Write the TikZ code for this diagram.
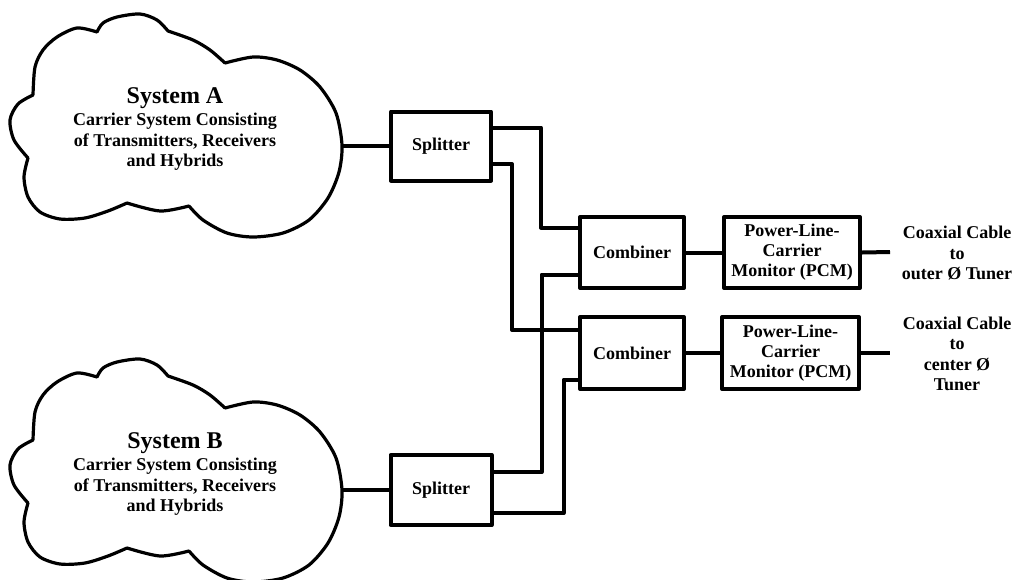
\documentclass[tikz,border=0pt]{standalone}
\usepackage{fontspec}
\setmainfont{Liberation Serif}
\begin{document}
\begin{tikzpicture}[x=1pt,y=-1pt,line join=round,
  box/.style={draw,line width=4pt,inner sep=0pt,align=center,font=\bfseries\fontsize{18}{20}\selectfont},
  wire/.style={line width=4pt},
  cloudline/.style={line width=3.2pt,line cap=round,line join=round},
  txt/.style={inner sep=0pt,align=center,font=\bfseries\fontsize{18}{20.5}\selectfont},
  title/.style={inner sep=0pt,font=\bfseries\fontsize{24}{26}\selectfont},
  pics/cloudshape/.style={code={
    \draw[cloudline]
      plot[smooth] coordinates {(33,95) (35,67) (43,50) (57,37) (77,28) (97,32)}
      plot[smooth] coordinates {(97,32) (103,23) (117,17) (140,14) (157,20) (168,31)}
      plot[smooth] coordinates {(168,31) (193,40) (210,50) (225,63)}
      plot[smooth] coordinates {(225,63) (253,57) (277,60) (300,70) (320,87) (336,113) (342,145) (339,172) (328,198) (309,220) (283,233) (253,237) (227,233) (203,220) (189,206)}
      plot[smooth] coordinates {(189,206) (160,211) (127,203)}
      plot[smooth] coordinates {(127,203) (108,211) (85,218) (60,219) (40,212) (28,197) (24,177) (28,158)}
      plot[smooth] coordinates {(28,158) (14,140) (10,120) (18,104) (33,95)};
  }}]
\useasboundingbox (0,0) rectangle (1019,579);

% clouds
\pic at (0,0) {cloudshape};
\pic at (0,345) {cloudshape};
\coordinate (cA) at (342,146);
\coordinate (cB) at (342,490);

\node[title] (tA) at (175,98) {System A};
\node[txt] (bA) at (175,142) {Carrier System Consisting\\of Transmitters, Receivers\\and Hybrids};
\node[title] (tB) at (175,443) {System B};
\node[txt] (bB) at (175,487) {Carrier System Consisting\\of Transmitters, Receivers\\and Hybrids};

% boxes
\node[box,minimum width=100pt,minimum height=69pt] (splA) at (441,146) {Splitter};
\node[box,minimum width=101pt,minimum height=70pt] (splB) at (441,490) {Splitter};
\node[box,minimum width=104pt,minimum height=71pt] (comb1) at (632,252.5) {Combiner};
\node[box,minimum width=104pt,minimum height=72pt] (comb2) at (632,353) {Combiner};
\node[box,minimum width=136pt,minimum height=71pt] (pcm1) at (792,252.5) {Power-Line-\\Carrier\\Monitor (PCM)};
\node[box,minimum width=137pt,minimum height=72pt] (pcm2) at (790.5,353) {Power-Line-\\Carrier\\Monitor (PCM)};

\coordinate (o1) at (890,252);
\coordinate (o2) at (890,353);

\node[txt] (lab1) at (957,253) {Coaxial Cable\\to\\outer Ø Tuner};
\node[txt] (lab2) at (957,354) {Coaxial Cable\\to\\center Ø\\Tuner};

% wires
\draw[wire] (cA) -- (splA.west);
\draw[wire] (cB) -- (splB.west);
\draw[wire] ([yshift=18.5pt]splA.east) -- ++(48,0) |- ([yshift=25pt]comb1.west);
\draw[wire] ([yshift=-18pt]splA.east) -- ++(19,0) |- ([yshift=23pt]comb2.west);
\draw[wire] ([yshift=18pt]splB.east) -- ++(48,0) |- ([yshift=-22pt]comb1.west);
\draw[wire] ([yshift=-23pt]splB.east) -- ++(70,0) |- ([yshift=-26.5pt]comb2.west);
\draw[wire] (comb1.east) -- (pcm1.west);
\draw[wire] (comb2.east) -- (pcm2.west);
\draw[wire] (pcm1.east) -- (o1);
\draw[wire] (pcm2.east) -- (o2);
\end{tikzpicture}
\end{document}
